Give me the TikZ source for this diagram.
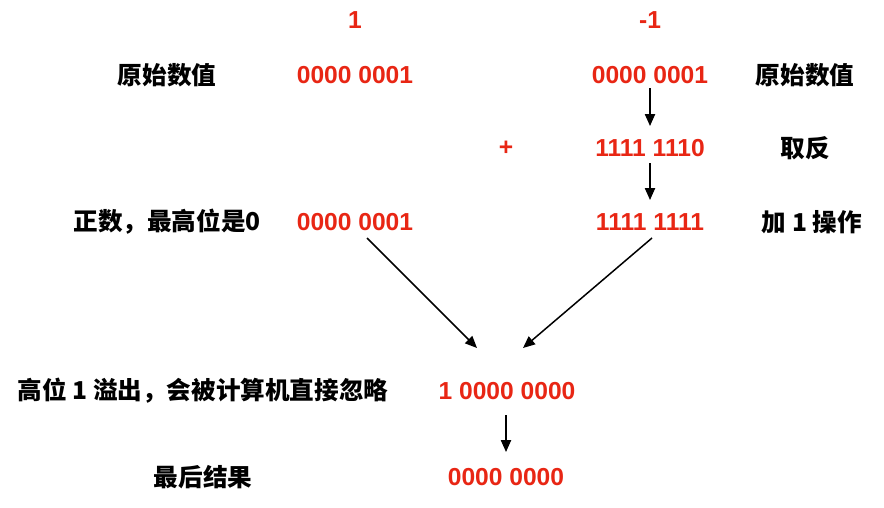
\documentclass[tikz,border=0pt]{standalone}
\usepackage{fontspec}
\usepackage{tikz}
\usetikzlibrary{arrows.meta,calc}
\setmainfont{Liberation Sans}
\newfontfamily\cjk{Noto Sans CJK SC}
\definecolor{bitred}{RGB}{232, 38, 20}
\tikzset{
    num/.style={inner sep=0pt, text=bitred, font=\fontsize{14}{16}\selectfont\bfseries},
    lbl/.style={inner sep=0pt, text=black, font=\fontsize{14}{16}\selectfont\cjk\bfseries},
    arr/.style={-{Triangle[length=6.8pt, width=5.8pt]}, line width=0.85pt, black}
}

\begin{document}
\begin{tikzpicture}[x=0.02cm, y=-0.02cm]
    \useasboundingbox (0,0) rectangle (884,507);
    % column heads
    \node[num] (pos) at (355,20) {1};
    \node[num] (neg) at (650,20) {-1};
    % original values
    \node[lbl] (origL) at (167,75) {原始数值};
    \node[num] (posOrig) at (355,75) {0000 0001};
    \node[num] (negOrig) at (650,75) {0000 0001};
    \node[lbl] (origR) at (805,75) {原始数值};
    % inverted
    \node[num] (plus) at (506,148) {+};
    \node[num] (negInv) at (650,148) {1111 1110};
    \node[lbl] (inv) at (805,148) {取反};
    % two's complement
    \node[lbl] (posLbl) at (167,222) {正数，最高位是0};
    \node[num] (posCode) at (355,222) {0000 0001};
    \node[num] (negCode) at (650,222) {1111 1111};
    \node[lbl] (addOne) at (812,222) {加 1 操作};
    % sum and result
    \node[lbl] (overLbl) at (203,391) {高位 1 溢出，会被计算机直接忽略};
    \node[num] (sum) at (507,391) {1 0000 0000};
    \node[lbl] (resLbl) at (203,477) {最后结果};
    \node[num] (res) at (506,477) {0000 0000};
    % arrows
    \draw[arr] ($(negOrig)+(0,13)$) -- ($(negInv)+(0,-22)$);
    \draw[arr] ($(negInv)+(0,15)$) -- ($(negCode)+(0,-22)$);
    \draw[arr] ($(posCode)+(12,16)$) -- ($(sum)+(-30,-43)$);
    \draw[arr] ($(negCode)+(2,16)$) -- ($(sum)+(16,-43)$);
    \draw[arr] ($(sum)+(-1,24)$) -- ($(res)+(0,-25)$);
\end{tikzpicture}
\end{document}
